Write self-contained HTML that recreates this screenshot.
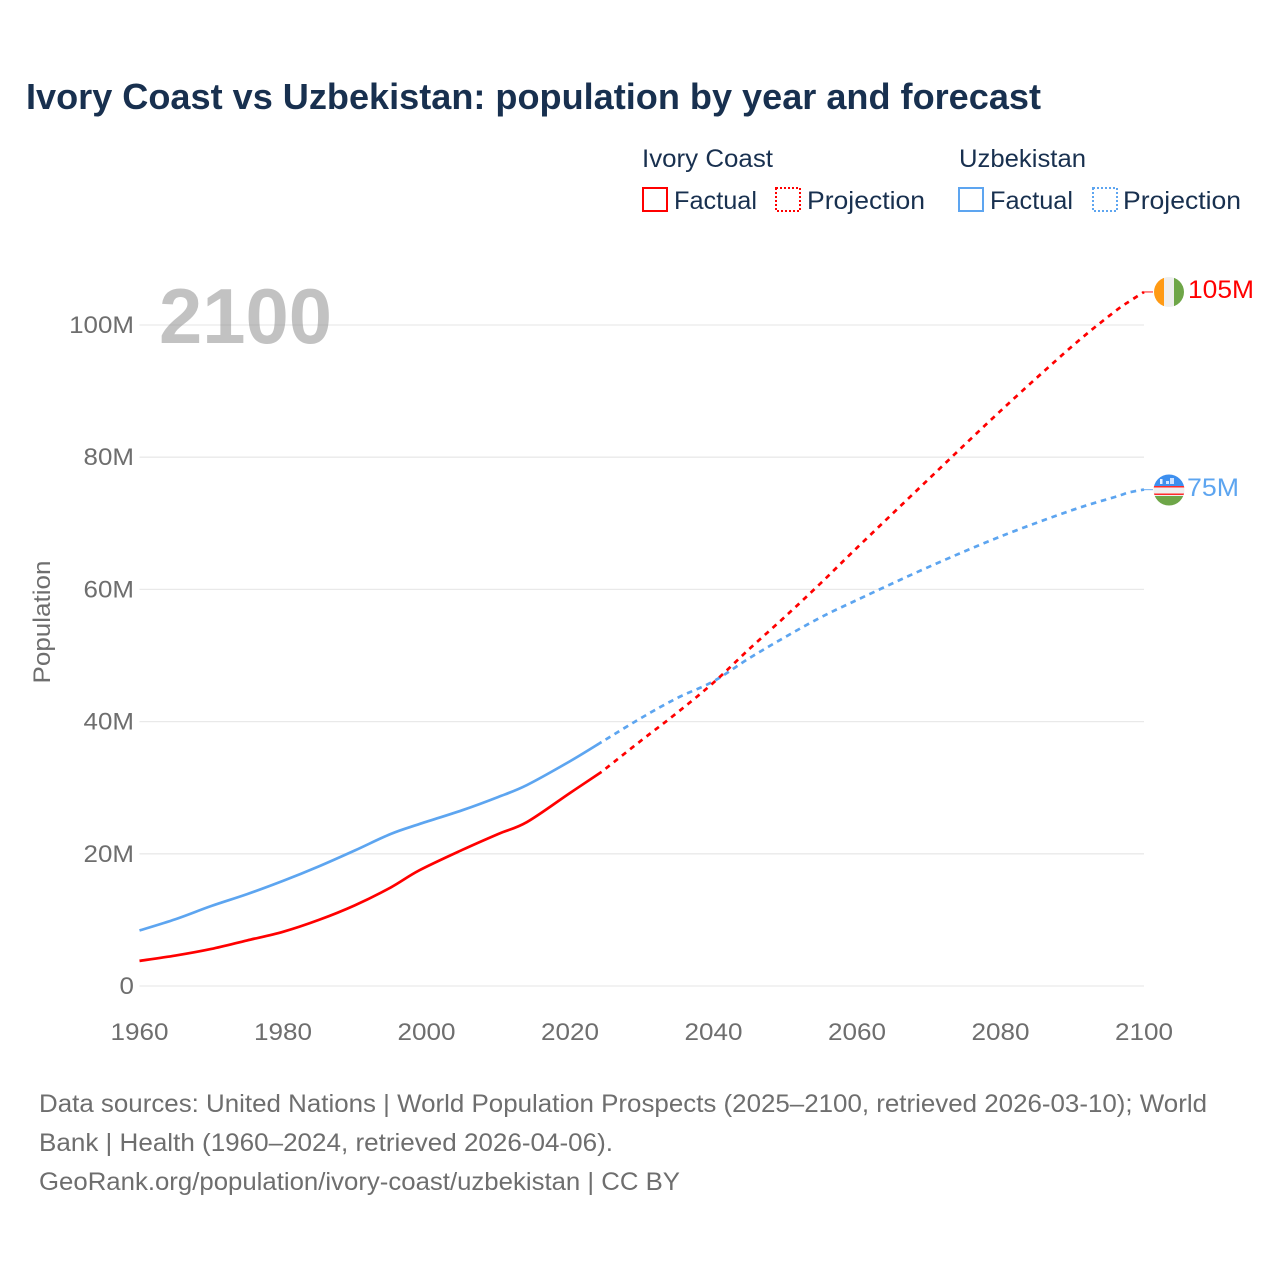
<!DOCTYPE html>
<html lang="en">
<head>
<meta charset="utf-8">
<title>Ivory Coast vs Uzbekistan: population by year and forecast</title>
<style>
html,body{margin:0;padding:0;background:#fff;}
svg{display:block;}
text{font-family:"Liberation Sans",sans-serif;}
.tick{font-size:24px;fill:#6e6e6e;}
.leg{font-size:25px;fill:#18304f;}
.src{font-size:25px;fill:#6e6e6e;}
</style>
</head>
<body>
<svg id="chart" xmlns="http://www.w3.org/2000/svg" width="1280" height="1280" viewBox="0 0 1280 1280">
  <text x="26" y="109" font-size="36" font-weight="700" fill="#18304f" textLength="1015" lengthAdjust="spacingAndGlyphs">Ivory Coast vs Uzbekistan: population by year and forecast</text>

  <g>
    <text class="leg" x="642" y="167" textLength="131" lengthAdjust="spacingAndGlyphs">Ivory Coast</text>
    <rect x="643" y="188" width="24" height="23" fill="none" stroke="#ff0000" stroke-width="2"/>
    <text class="leg" x="674" y="209" textLength="83" lengthAdjust="spacingAndGlyphs">Factual</text>
    <rect x="776" y="188" width="24" height="23" fill="none" stroke="#ff0000" stroke-width="2" stroke-dasharray="2 2"/>
    <text class="leg" x="807" y="209" textLength="118" lengthAdjust="spacingAndGlyphs">Projection</text>
    <text class="leg" x="959" y="167" textLength="127" lengthAdjust="spacingAndGlyphs">Uzbekistan</text>
    <rect x="959" y="188" width="24" height="23" fill="none" stroke="#5da5f0" stroke-width="2"/>
    <text class="leg" x="990" y="209" textLength="83" lengthAdjust="spacingAndGlyphs">Factual</text>
    <rect x="1093" y="188" width="24" height="23" fill="none" stroke="#5da5f0" stroke-width="2" stroke-dasharray="2 2"/>
    <text class="leg" x="1123" y="209" textLength="118" lengthAdjust="spacingAndGlyphs">Projection</text>
  </g>

  <g id="grid"></g>
  <g id="yticks"></g>
  <g id="xticks"></g>

  <text x="159" y="343" font-size="78" font-weight="700" fill="#999" fill-opacity="0.6" textLength="173" lengthAdjust="spacingAndGlyphs">2100</text>
  <text class="tick" transform="translate(50,622) rotate(-90)" text-anchor="middle" textLength="123" lengthAdjust="spacingAndGlyphs">Population</text>

  <g id="series"></g>

  <defs>
    <clipPath id="flag-clip-ci"><circle cx="1169" cy="292" r="15"/></clipPath>
    <clipPath id="flag-clip-uz"><circle cx="1169" cy="490" r="15.5"/></clipPath>
  </defs>

  <g clip-path="url(#flag-clip-ci)">
    <rect x="1154" y="276" width="10" height="32" fill="#ff9a14"/>
    <rect x="1164" y="276" width="10" height="32" fill="#efefef"/>
    <rect x="1174" y="276" width="10" height="32" fill="#6ea648"/>
  </g>
  <g clip-path="url(#flag-clip-uz)">
    <rect x="1153" y="474" width="32" height="12" fill="#3d8fef"/>
    <rect x="1153" y="486" width="32" height="10" fill="#efefef"/>
    <rect x="1153" y="486" width="32" height="1.5" fill="#ff2a2a"/>
    <rect x="1153" y="493.5" width="32" height="1.5" fill="#ff2a2a"/>
    <rect x="1153" y="496" width="32" height="10" fill="#6ea648"/>
    <rect x="1160" y="479" width="2.5" height="5" fill="#e6f0ff"/>
    <rect x="1166" y="481" width="3" height="3" fill="#cfe2ff"/>
    <rect x="1170" y="478" width="4" height="6" fill="#cfe2ff"/>
  </g>

  <text x="1188" y="298" font-size="25" fill="#ff0000" textLength="66" lengthAdjust="spacingAndGlyphs">105M</text>
  <text x="1187" y="496" font-size="25" fill="#5da5f0" textLength="52" lengthAdjust="spacingAndGlyphs">75M</text>

  <g>
    <text class="src" x="39" y="1112" textLength="1168" lengthAdjust="spacingAndGlyphs">Data sources: United Nations | World Population Prospects (2025–2100, retrieved 2026-03-10); World</text>
    <text class="src" x="39" y="1151" textLength="574" lengthAdjust="spacingAndGlyphs">Bank | Health (1960–2024, retrieved 2026-04-06).</text>
    <text class="src" x="39" y="1190" textLength="641" lengthAdjust="spacingAndGlyphs">GeoRank.org/population/ivory-coast/uzbekistan | CC BY</text>
  </g>
</svg>
<script>
const yTickValues = [0, 20, 40, 60, 80, 100];
const yTickLabels = ['0', '20M', '40M', '60M', '80M', '100M'];
const xTickYears = [1960, 1980, 2000, 2020, 2040, 2060, 2080, 2100];

const factualYears = [1960, 1965, 1970, 1975, 1980, 1985, 1990, 1995, 1999, 2005, 2010, 2014, 2020, 2024.4];
const ivoryFactual = [3.8, 4.6, 5.6, 6.9, 8.2, 10.0, 12.2, 14.9, 17.5, 20.6, 23.0, 24.8, 29.2, 32.4];
const uzbekFactual = [8.4, 10.1, 12.1, 13.9, 15.9, 18.1, 20.5, 23.0, 24.5, 26.6, 28.6, 30.4, 34.0, 36.9];

const projectionYears = [2024.4, 2030, 2035, 2040, 2045, 2050, 2055, 2060, 2070, 2080, 2090, 2096, 2098, 2100];
const ivoryProjection = [32.4, 37.2, 41.4, 45.9, 51.0, 55.9, 61.0, 66.3, 76.7, 87.0, 96.8, 102.1, 103.6, 105.0];
const uzbekProjection = [36.9, 40.6, 43.6, 46.1, 49.6, 52.8, 55.8, 58.4, 63.4, 68.0, 72.0, 74.0, 74.7, 75.1];

const svgNS = 'http://www.w3.org/2000/svg';
const xScale = function (year) { return 139.5 + (year - 1960) * (1144 - 139.5) / 140; };
const yScale = function (m) { return 986 - m * 6.61; };

function svgEl(tag, parent) {
  const el = document.createElementNS(svgNS, tag);
  parent.appendChild(el);
  return el;
}

const gridGroup = document.getElementById('grid');
const yGroup = document.getElementById('yticks');
yTickValues.forEach(function (v, i) {
  const line = svgEl('line', gridGroup);
  
  
  line.setAttribute('x1', 139.5);
  line.setAttribute('x2', 1144);
  line.setAttribute('y1', yScale(v));
  line.setAttribute('y2', yScale(v));
  line.setAttribute('stroke', '#e9e9e9');
  line.setAttribute('stroke-width', 1.3);
  const label = svgEl('text', yGroup);
  
  
  label.setAttribute('class', 'tick');
  label.setAttribute('x', 134);
  label.setAttribute('y', yScale(v) + 8);
  label.setAttribute('text-anchor', 'end');
  label.textContent = yTickLabels[i];
  label.setAttribute('textLength', label.getComputedTextLength() * 1.08);
  label.setAttribute('lengthAdjust', 'spacingAndGlyphs');
});

const xGroup = document.getElementById('xticks');
xTickYears.forEach(function (year) {
  const label = svgEl('text', xGroup);
  
  
  label.setAttribute('class', 'tick');
  label.setAttribute('x', xScale(year));
  label.setAttribute('y', 1040);
  label.setAttribute('text-anchor', 'middle');
  label.setAttribute('textLength', 58);
  label.setAttribute('lengthAdjust', 'spacingAndGlyphs');
  label.textContent = year;
});

function smoothPath(years, values) {
  const pts = years.map(function (y, i) { return [xScale(y), yScale(values[i])]; });
  let d = 'M' + pts[0][0] + ' ' + pts[0][1];
  for (let i = 0; i < pts.length - 1; i++) {
    const p0 = pts[Math.max(i - 1, 0)], p1 = pts[i], p2 = pts[i + 1], p3 = pts[Math.min(i + 2, pts.length - 1)];
    const c1x = p1[0] + (p2[0] - p0[0]) / 6, c1y = p1[1] + (p2[1] - p0[1]) / 6;
    const c2x = p2[0] - (p3[0] - p1[0]) / 6, c2y = p2[1] - (p3[1] - p1[1]) / 6;
    d += 'C' + c1x + ' ' + c1y + ' ' + c2x + ' ' + c2y + ' ' + p2[0] + ' ' + p2[1];
  }
  return d;
}

const seriesGroup = document.getElementById('series');

const uzbekProjLine = svgEl('path', seriesGroup);


uzbekProjLine.setAttribute('d', smoothPath(projectionYears, uzbekProjection));
uzbekProjLine.setAttribute('fill', 'none');
uzbekProjLine.setAttribute('stroke', '#5da5f0');
uzbekProjLine.setAttribute('stroke-width', 2.7);
uzbekProjLine.setAttribute('stroke-dasharray', '5.6 4.8');
uzbekProjLine.setAttribute('stroke-dashoffset', '5.6');

const ivoryProjLine = svgEl('path', seriesGroup);


ivoryProjLine.setAttribute('d', smoothPath(projectionYears, ivoryProjection));
ivoryProjLine.setAttribute('fill', 'none');
ivoryProjLine.setAttribute('stroke', '#ff0000');
ivoryProjLine.setAttribute('stroke-width', 2.7);
ivoryProjLine.setAttribute('stroke-dasharray', '5.2 5.2');
ivoryProjLine.setAttribute('stroke-dashoffset', '5.2');

const uzbekFactLine = svgEl('path', seriesGroup);


uzbekFactLine.setAttribute('d', smoothPath(factualYears, uzbekFactual));
uzbekFactLine.setAttribute('fill', 'none');
uzbekFactLine.setAttribute('stroke', '#5da5f0');
uzbekFactLine.setAttribute('stroke-width', 2.7);

const ivoryFactLine = svgEl('path', seriesGroup);


ivoryFactLine.setAttribute('d', smoothPath(factualYears, ivoryFactual));
ivoryFactLine.setAttribute('fill', 'none');
ivoryFactLine.setAttribute('stroke', '#ff0000');
ivoryFactLine.setAttribute('stroke-width', 2.7);

const ivoryLastY = yScale(ivoryProjection[ivoryProjection.length - 1]);
const ivoryConnector = svgEl('line', seriesGroup);


ivoryConnector.setAttribute('x1', 1144);
ivoryConnector.setAttribute('x2', 1153);
ivoryConnector.setAttribute('y1', ivoryLastY);
ivoryConnector.setAttribute('y2', ivoryLastY);
ivoryConnector.setAttribute('stroke', '#ff0000');
ivoryConnector.setAttribute('stroke-opacity', '0.75');
ivoryConnector.setAttribute('stroke-width', 1.2);

const uzbekLastY = yScale(uzbekProjection[uzbekProjection.length - 1]);
const uzbekConnector = svgEl('line', seriesGroup);


uzbekConnector.setAttribute('x1', 1144);
uzbekConnector.setAttribute('x2', 1153);
uzbekConnector.setAttribute('y1', uzbekLastY);
uzbekConnector.setAttribute('y2', uzbekLastY);
uzbekConnector.setAttribute('stroke', '#5da5f0');
uzbekConnector.setAttribute('stroke-opacity', '0.75');
uzbekConnector.setAttribute('stroke-width', 1.2);
</script>
</body>
</html>
